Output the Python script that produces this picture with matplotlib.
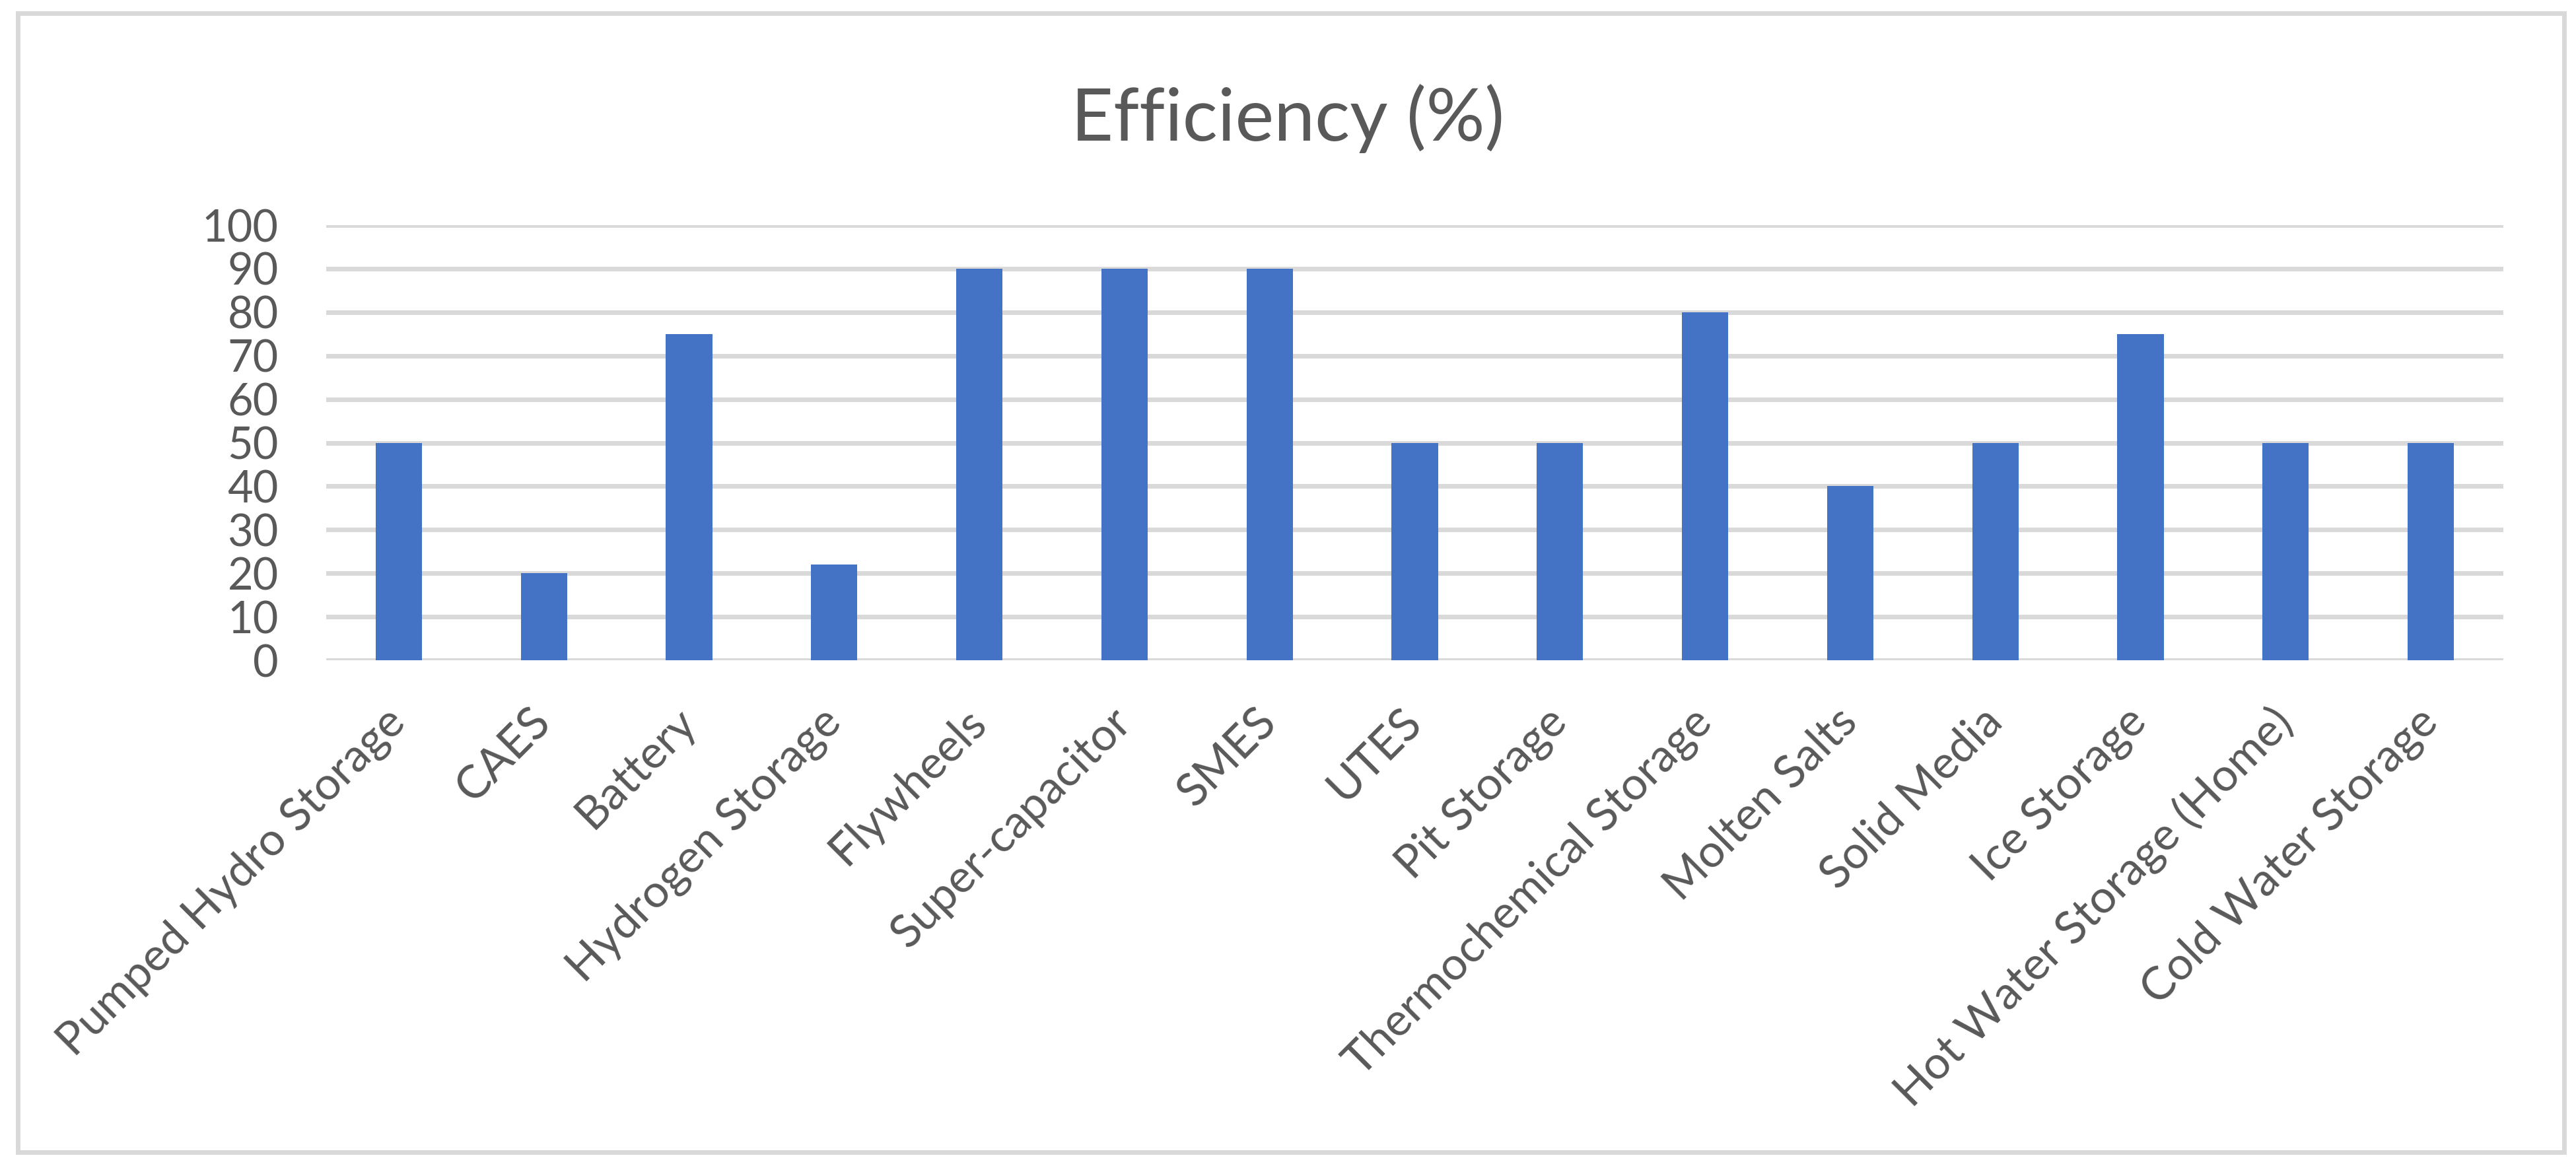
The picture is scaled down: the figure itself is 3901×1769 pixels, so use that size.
import matplotlib.pyplot as plt
from matplotlib.patches import Rectangle

categories = [
    "Pumped Hydro Storage", "CAES", "Battery", "Hydrogen Storage", "Flywheels",
    "Super-capacitor", "SMES", "UTES", "Pit Storage", "Thermochemical Storage",
    "Molten Salts", "Solid Media", "Ice Storage", "Hot Water Storage (Home)",
    "Cold Water Storage",
]
efficiency = [50, 20, 75, 22, 90, 90, 90, 50, 50, 80, 40, 50, 75, 50, 50]
yticks = [0, 10, 20, 30, 40, 50, 60, 70, 80, 90, 100]

text_color = "#595959"
grid_color = "#D9D9D9"
bar_color = "#4472C4"

plt.rcParams["font.family"] = ["Lato", "DejaVu Sans"]

W, H = 3901, 1769
fig = plt.figure(figsize=(W / 100, H / 100), dpi=100)
ax = fig.add_axes([494 / W, 1 - 1000 / H, (3791 - 494) / W, (1000 - 341) / H])

x = range(len(categories))
ax.bar(x, efficiency, width=0.32, color=bar_color, zorder=3)

ax.set_xlim(-0.5, len(categories) - 0.5)
ax.set_ylim(0, 100)
ax.set_yticks(yticks)
ax.set_yticklabels([str(v) for v in yticks])
ax.set_xticks(list(x))
ax.set_xticklabels(categories, rotation=45, ha="right", va="center",
                   rotation_mode="anchor")

ax.grid(axis="y", color=grid_color, linewidth=5, zorder=0)
ax.set_axisbelow(True)
for s in ax.spines.values():
    s.set_visible(False)
ax.tick_params(axis="y", length=0, pad=52, labelsize=48, labelcolor=text_color)
ax.tick_params(axis="x", length=0, pad=60, labelsize=50, labelcolor=text_color)

fig.text(0.5, 1 - 72 * 2.488 / H, "Efficiency (%)", ha="center", va="center",
         fontsize=80, color=text_color)

# chart area outline
fig.patches.append(Rectangle((27 / W, 1 - 1745 / H), (3883 - 27) / W,
                             (1745 - 20) / H, transform=fig.transFigure,
                             fill=False, edgecolor=grid_color, linewidth=5))

fig.savefig("out.png", dpi=100)
